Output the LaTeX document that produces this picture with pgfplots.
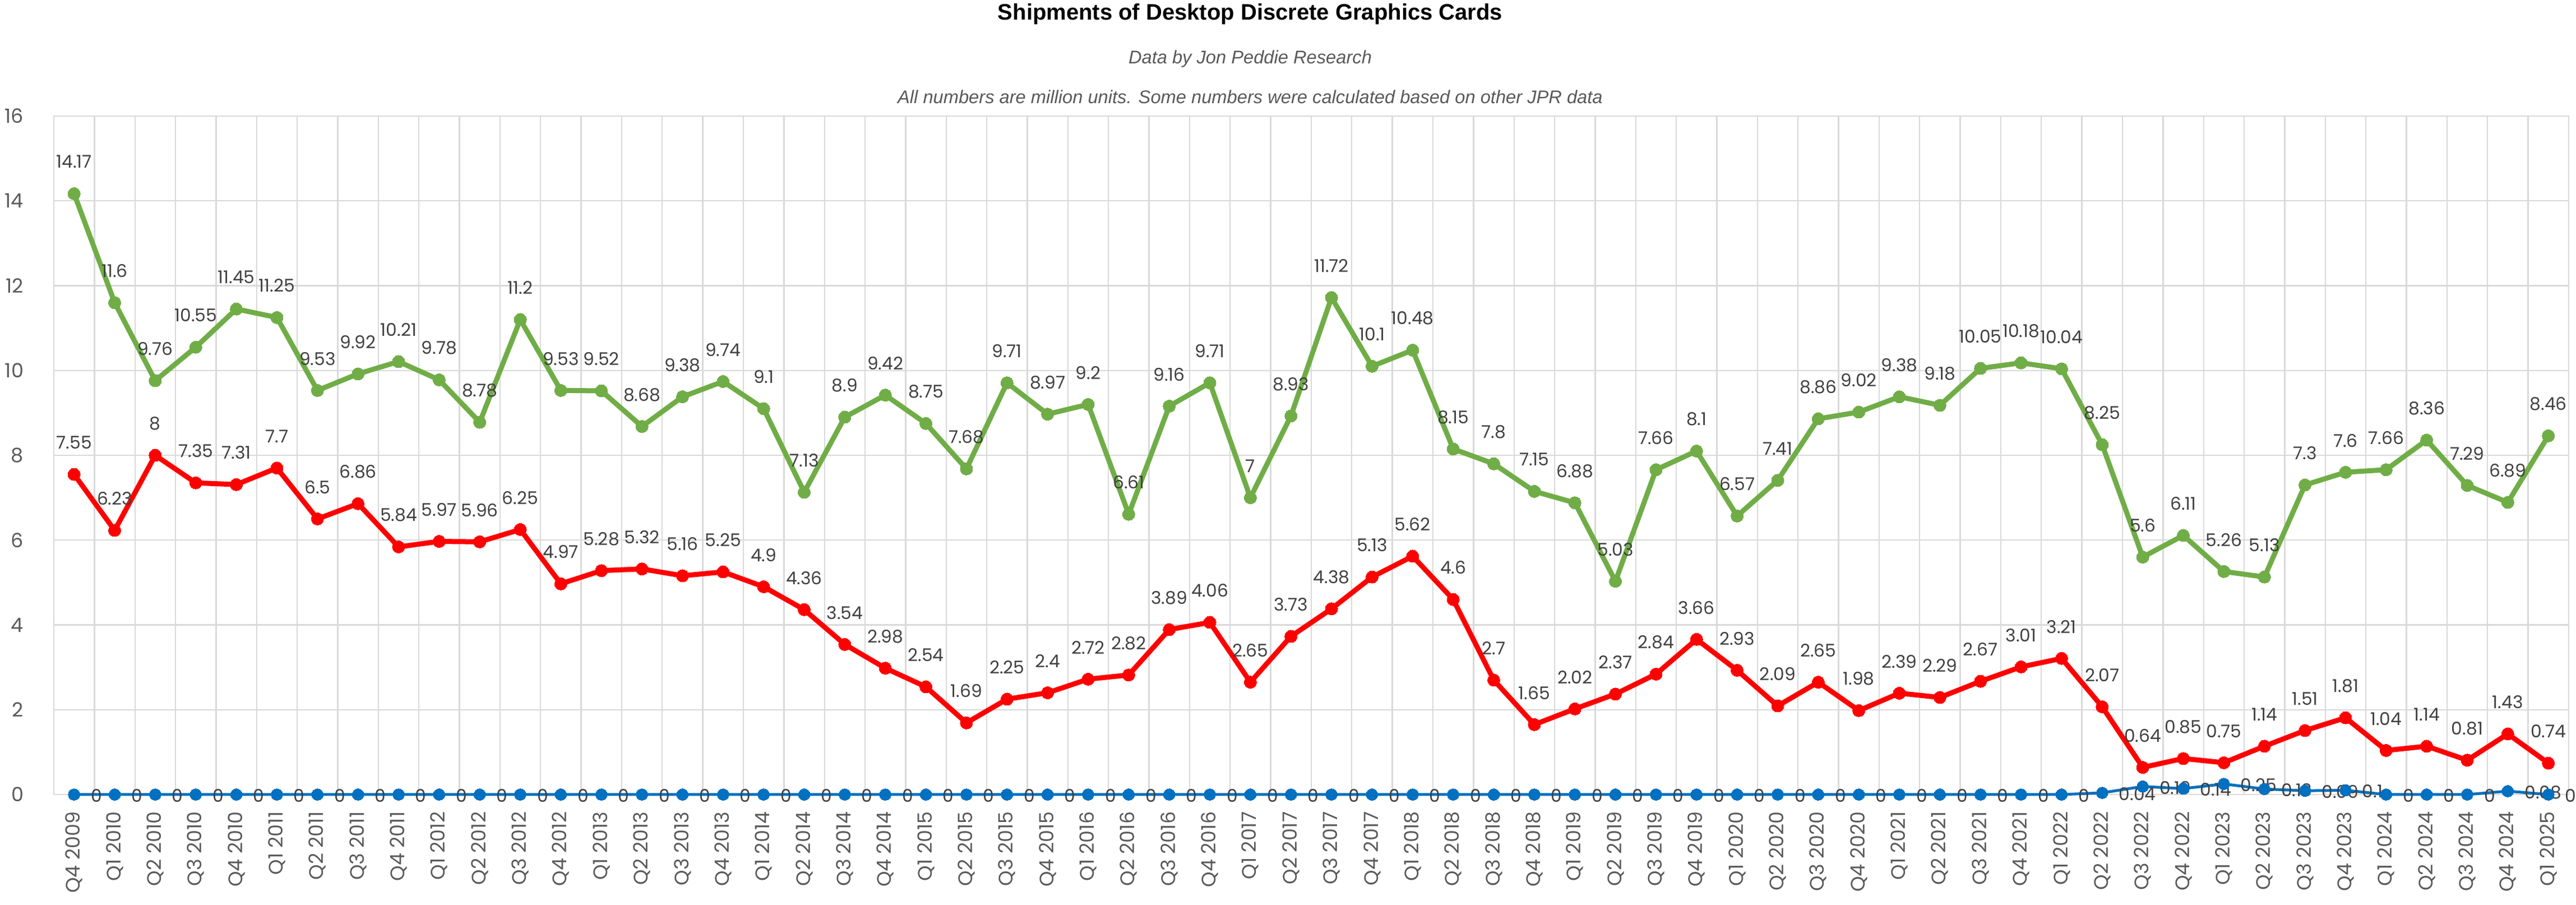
\documentclass[border=0pt]{standalone}
\usepackage{fontspec}
\setmainfont{Poppins}
\newfontfamily\arialfont{Liberation Sans}
\usepackage{pgfplots}
\pgfplotsset{compat=1.18}
\usepackage{pgfplotstable}
\definecolor{cgreen}{HTML}{70AD47}
\definecolor{cred}{HTML}{FF0000}
\definecolor{cblue}{HTML}{0070C0}
\definecolor{gridc}{HTML}{D9D9D9}
\definecolor{tickc}{HTML}{595959}
\definecolor{labc}{HTML}{404040}

\pgfplotstableread{
x g r b
0 14.17 7.55 0
1 11.6 6.23 0
2 9.76 8 0
3 10.55 7.35 0
4 11.45 7.31 0
5 11.25 7.7 0
6 9.53 6.5 0
7 9.92 6.86 0
8 10.21 5.84 0
9 9.78 5.97 0
10 8.78 5.96 0
11 11.2 6.25 0
12 9.53 4.97 0
13 9.52 5.28 0
14 8.68 5.32 0
15 9.38 5.16 0
16 9.74 5.25 0
17 9.1 4.9 0
18 7.13 4.36 0
19 8.9 3.54 0
20 9.42 2.98 0
21 8.75 2.54 0
22 7.68 1.69 0
23 9.71 2.25 0
24 8.97 2.4 0
25 9.2 2.72 0
26 6.61 2.82 0
27 9.16 3.89 0
28 9.71 4.06 0
29 7 2.65 0
30 8.93 3.73 0
31 11.72 4.38 0
32 10.1 5.13 0
33 10.48 5.62 0
34 8.15 4.6 0
35 7.8 2.7 0
36 7.15 1.65 0
37 6.88 2.02 0
38 5.03 2.37 0
39 7.66 2.84 0
40 8.1 3.66 0
41 6.57 2.93 0
42 7.41 2.09 0
43 8.86 2.65 0
44 9.02 1.98 0
45 9.38 2.39 0
46 9.18 2.29 0
47 10.05 2.67 0
48 10.18 3.01 0
49 10.04 3.21 0
50 8.25 2.07 0.04
51 5.6 0.64 0.19
52 6.11 0.85 0.14
53 5.26 0.75 0.25
54 5.13 1.14 0.13
55 7.3 1.51 0.09
56 7.6 1.81 0.1
57 7.66 1.04 0
58 8.36 1.14 0
59 7.29 0.81 0
60 6.89 1.43 0.08
61 8.46 0.74 0
}\data

\begin{document}
\begin{tikzpicture}
\begin{axis}[
  at={(0,0)}, anchor=south west,
  scale only axis, width=1345.8pt, height=363pt,
  xmin=-0.5, xmax=61.5, ymin=0, ymax=16,
  ytick={0,2,4,6,8,10,12,14,16},
  yticklabels={0,2,4,6,8,10,12,14,16},
  xtick={0,...,61},
  minor xtick={-0.5,0.5,...,61.5},
  xticklabels={Q4 2009,
    Q1 2010,Q2 2010,Q3 2010,Q4 2010,
    Q1 2011,Q2 2011,Q3 2011,Q4 2011,
    Q1 2012,Q2 2012,Q3 2012,Q4 2012,
    Q1 2013,Q2 2013,Q3 2013,Q4 2013,
    Q1 2014,Q2 2014,Q3 2014,Q4 2014,
    Q1 2015,Q2 2015,Q3 2015,Q4 2015,
    Q1 2016,Q2 2016,Q3 2016,Q4 2016,
    Q1 2017,Q2 2017,Q3 2017,Q4 2017,
    Q1 2018,Q2 2018,Q3 2018,Q4 2018,
    Q1 2019,Q2 2019,Q3 2019,Q4 2019,
    Q1 2020,Q2 2020,Q3 2020,Q4 2020,
    Q1 2021,Q2 2021,Q3 2021,Q4 2021,
    Q1 2022,Q2 2022,Q3 2022,Q4 2022,
    Q1 2023,Q2 2023,Q3 2023,Q4 2023,
    Q1 2024,Q2 2024,Q3 2024,Q4 2024,
    Q1 2025},
  xminorgrids=true, ymajorgrids=true, xmajorgrids=false,
  grid style={gridc, line width=0.7pt},
  minor grid style={gridc, line width=0.7pt},
  major tick length=0pt, minor tick length=0pt,
  axis line style={gridc, line width=0.7pt},
  tick label style={font=\fontsize{10.5}{12}\selectfont, text=tickc},
  xticklabel style={rotate=90, anchor=east, inner sep=0pt},
  xticklabel shift=9pt,
  yticklabel style={anchor=east, inner sep=0pt},
  yticklabel shift=16pt,
  clip=false,
  point meta=explicit symbolic,
]
\addplot[cgreen, line width=2.7pt, mark=*, mark size=3.3pt,
  mark options={solid, fill=cgreen, draw=cgreen, line width=0pt},
  nodes near coords,
  every node near coord/.append style={font=\fontsize{9.4}{11}\selectfont, text=labc, anchor=center, yshift=17pt, inner sep=0pt}]
  table[x=x, y=g, meta=g] {\data};
\addplot[cred, line width=2.7pt, mark=*, mark size=3.3pt,
  mark options={solid, fill=cred, draw=cred, line width=0pt},
  nodes near coords,
  every node near coord/.append style={font=\fontsize{9.4}{11}\selectfont, text=labc, anchor=center, yshift=17pt, inner sep=0pt}]
  table[x=x, y=r, meta=r] {\data};
\addplot[cblue, line width=1.5pt, mark=*, mark size=3.1pt,
  mark options={solid, fill=cblue, draw=cblue, line width=0pt},
  nodes near coords,
  every node near coord/.append style={font=\fontsize{9.4}{11}\selectfont, text=labc, anchor=west, xshift=9pt, yshift=-0.6pt, inner sep=0pt}]
  table[x=x, y=b, meta=b] {\data};
\end{axis}
\node[font=\arialfont\bfseries\fontsize{12}{14}\selectfont, anchor=base, inner sep=0pt] at (640.2pt,414.3pt) {Shipments of Desktop Discrete Graphics Cards};
\node[font=\arialfont\itshape\fontsize{9.8}{11}\selectfont, text=tickc, anchor=base, inner sep=0pt] at (640.2pt,390.9pt) {Data by Jon Peddie Research};
\node[font=\arialfont\itshape\fontsize{9.8}{11}\selectfont, text=tickc, anchor=base, inner sep=0pt] at (640.2pt,369.6pt) {All numbers are million units. Some numbers were calculated based on other JPR data};
\pgfresetboundingbox
\path[use as bounding box] (-28.8pt,-59.1pt) rectangle (1349.7pt,425.1pt);
\end{tikzpicture}
\end{document}
